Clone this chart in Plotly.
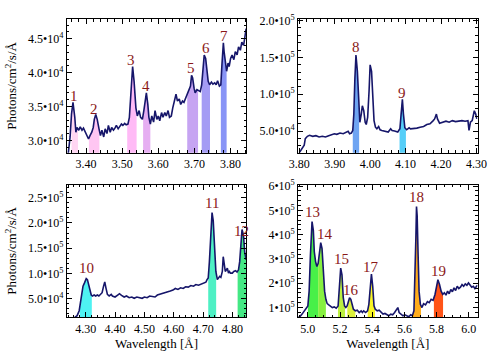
import numpy as np
import plotly.graph_objects as go

# ---------------- data ----------------
# Panel A (3.35 - 3.84 A)
wl_a = [3.351,3.356,3.360,3.364,3.369,3.372,3.375,3.380,3.384,3.389,
        3.393,3.398,3.402,3.407,3.411,3.416,3.420,3.423,3.427,3.431,
        3.436,3.440,3.444,3.449,3.453,3.458,3.462,3.467,3.471,3.476,
        3.480,3.484,3.489,3.493,3.498,3.502,3.507,3.511,3.516,3.520,
        3.524,3.529,3.533,3.538,3.542,3.547,3.551,3.556,3.560,3.564,
        3.567,3.571,3.574,3.578,3.582,3.587,3.591,3.596,3.600,3.604,
        3.609,3.613,3.618,3.622,3.627,3.631,3.636,3.640,3.644,3.649,
        3.653,3.658,3.662,3.667,3.671,3.676,3.680,3.684,3.689,3.692,
        3.695,3.699,3.702,3.707,3.711,3.716,3.720,3.724,3.727,3.731,
        3.734,3.738,3.742,3.747,3.751,3.756,3.760,3.764,3.769,3.773,
        3.776,3.780,3.782,3.786,3.789,3.793,3.796,3.800,3.804,3.809,
        3.813,3.818,3.822,3.827,3.831,3.836,3.840,3.843]
fx_a = [28100,30500,33900,35600,33400,31200,31900,31500,32000,31500,
        31800,31200,30700,30200,30700,31200,31900,33100,33800,33100,
        31700,30700,31500,30500,31700,31000,32200,31200,31900,31500,
        31800,32200,31700,32000,32400,32200,32500,32300,32400,33400,
        37300,40900,38700,34800,33600,34400,33400,33100,34400,36300,
        37000,35300,33400,32400,33600,32700,34400,33100,33600,32900,
        34100,33400,34100,33600,34400,33400,33600,34800,35600,36800,
        35800,36100,35300,35800,35600,36300,36900,37300,38000,39600,
        39200,37700,37000,37500,37300,37200,38200,41400,42600,42100,
        40400,38700,38200,38600,38300,38500,38200,38800,38000,38200,
        41100,44400,43100,41600,40200,41400,40900,42100,42600,41900,
        43100,42600,43800,43300,44500,44000,46000,46500]

# Panel B (3.80 - 4.30 A)
wl_b = [3.800,3.806,3.814,3.817,3.823,3.829,3.838,3.847,3.856,3.865,
        3.874,3.883,3.892,3.899,3.906,3.915,3.924,3.933,3.938,3.942,
        3.947,3.951,3.954,3.957,3.960,3.964,3.968,3.971,3.975,3.978,
        3.982,3.986,3.989,3.993,3.997,4.000,4.004,4.007,4.011,4.015,
        4.019,4.024,4.028,4.033,4.042,4.051,4.058,4.062,4.069,4.078,
        4.084,4.087,4.091,4.094,4.098,4.103,4.110,4.114,4.123,4.132,
        4.141,4.151,4.160,4.169,4.178,4.182,4.187,4.190,4.196,4.205,
        4.214,4.223,4.232,4.241,4.250,4.259,4.268,4.276,4.279,4.283,
        4.288,4.294,4.298,4.301]
fx_b = [20600,25100,30900,39800,42900,44200,42900,43800,42000,42900,
        42000,43800,45600,46400,45600,47300,46400,48700,49600,46400,
        47300,50900,73100,122100,153200,131000,86500,62000,73100,84300,
        77600,62000,58900,68700,104300,139900,131000,90900,64200,55300,
        53100,56200,51800,50900,50000,48700,53100,50900,50000,48700,
        53100,77600,93200,73100,54500,51800,54500,53100,53100,54000,
        55300,56200,58900,59800,64200,66500,73100,66500,60700,62000,
        63400,62000,64200,62900,63400,64200,63400,64200,50900,62000,
        64200,77600,73100,66500]

# Panel C (4.24 - 4.85 A)
wl_c = [4.263,4.271,4.278,4.282,4.286,4.291,4.296,4.302,4.306,4.310,
        4.315,4.319,4.323,4.329,4.334,4.340,4.345,4.351,4.356,4.361,
        4.365,4.369,4.374,4.380,4.387,4.391,4.400,4.409,4.415,4.422,
        4.431,4.439,4.448,4.457,4.465,4.474,4.483,4.492,4.500,4.509,
        4.518,4.527,4.536,4.544,4.553,4.562,4.570,4.579,4.588,4.597,
        4.605,4.614,4.623,4.632,4.640,4.649,4.658,4.667,4.675,4.684,
        4.693,4.702,4.709,4.713,4.717,4.721,4.726,4.730,4.734,4.739,
        4.743,4.748,4.752,4.756,4.760,4.765,4.768,4.771,4.775,4.779,
        4.782,4.786,4.789,4.793,4.799,4.804,4.810,4.815,4.820,4.824,
        4.828,4.832,4.837,4.841,4.846]
fx_c = [13000,16300,26000,39000,58400,74700,81200,89600,87600,77900,
        64900,57100,55200,57100,55200,57100,55200,58400,61700,74700,
        83100,71400,58400,55200,58400,55200,53200,57100,59700,56500,
        53200,55200,51900,53200,50600,53200,51900,50600,53200,51900,
        55200,54500,53200,57100,58400,59700,61700,63600,64900,66900,
        70100,68200,71400,70100,73400,72700,76000,74700,77900,76600,
        79200,81200,82500,87600,90900,123300,185000,220700,204500,149300,
        103900,87600,90900,94100,92200,103900,133100,120100,103900,107100,
        110400,100600,103900,100600,100600,103900,105200,102600,107100,123300,
        155800,186900,175300,142800,126600]

# Panel D (4.94 - 6.05 A)
wl_d = [4.936,4.950,4.964,4.976,4.990,5.000,5.008,5.016,5.026,5.034,
        5.040,5.048,5.056,5.064,5.072,5.080,5.088,5.096,5.104,5.112,
        5.120,5.130,5.140,5.152,5.164,5.176,5.188,5.196,5.204,5.212,
        5.220,5.228,5.236,5.244,5.251,5.259,5.267,5.275,5.283,5.295,
        5.307,5.319,5.331,5.339,5.347,5.359,5.371,5.379,5.387,5.395,
        5.403,5.411,5.419,5.431,5.443,5.455,5.467,5.479,5.491,5.503,
        5.515,5.527,5.539,5.551,5.559,5.567,5.579,5.591,5.603,5.615,
        5.627,5.639,5.649,5.659,5.665,5.671,5.675,5.679,5.685,5.691,
        5.699,5.709,5.719,5.731,5.743,5.754,5.766,5.778,5.790,5.798,
        5.808,5.818,5.828,5.838,5.848,5.858,5.868,5.878,5.888,5.898,
        5.908,5.918,5.928,5.938,5.948,5.958,5.968,5.978,5.988,5.998,
        6.008,6.018,6.028,6.038,6.048,6.054]
fx_d = [59500,62200,73000,86500,97300,106800,167600,316200,454000,417500,
        329700,289100,268900,282400,329700,367500,343200,248600,167600,133800,
        116200,110800,106800,100000,102700,97300,106800,181100,262100,235100,
        140500,106800,100000,106800,120300,140500,133800,106800,93200,86500,
        89200,79700,86500,79700,86500,79700,86500,113500,187800,237800,
        187800,106800,93200,86500,89200,79700,73000,75700,70300,66200,
        73000,70300,79700,93200,100000,79700,73000,66200,70300,66200,
        62200,70300,66200,86500,194600,383700,516100,478300,316200,167600,
        113500,100000,116200,110800,124300,120300,133800,129700,154000,187800,
        214800,194600,167600,154000,160800,151300,167600,156700,174300,164800,
        181100,170300,187800,178400,183800,194600,187800,197300,191900,201300,
        191900,183800,187800,178400,187800,191900]

# identified lines: number, panel, band limits, label position
line_ids = ["1","2","3","4","5","6","7","8","9","10",
            "11","12","13","14","15","16","17","18","19"]
line_panel = [0,0,0,0,0,0,0,1,1,2,2,2,3,3,3,3,3,3,3]
band_lo = [3.360,3.408,3.514,3.558,3.680,3.720,3.773,3.951,4.083,4.280,
           4.717,4.817,5.000,5.064,5.187,5.245,5.372,5.652,5.783]
band_hi = [3.378,3.437,3.540,3.578,3.710,3.743,3.789,3.969,4.101,4.321,
           4.744,4.846,5.064,5.112,5.231,5.295,5.417,5.703,5.840]
label_wl = [3.366,3.422,3.525,3.567,3.691,3.731,3.781,3.960,4.090,4.302,
            4.730,4.831,5.030,5.104,5.210,5.269,5.395,5.673,5.814]
label_fx = [36500,34600,41900,38000,40700,43600,45400,164400,102100,110400,
            240200,185000,494500,404000,300000,174300,268900,556600,248600]

# axis ticks
xt = [[3.40,3.50,3.60,3.70,3.80],[3.80,3.90,4.00,4.10,4.20,4.30],
      [4.30,4.40,4.50,4.60,4.70,4.80],[5.0,5.2,5.4,5.6,5.8,6.0]]
yt = [[3.0e4,3.5e4,4.0e4,4.5e4],[5.0e4,1.0e5,1.5e5,2.0e5],
      [5.0e4,1.0e5,1.5e5,2.0e5,2.5e5],[1e5,2e5,3e5,4e5,5e5,6e5]]

# ---------------- styling ----------------
band_colors = ['#ffd6f2','#ffc6f2','#ffbaf6','#e6aef2','#c6a4f2','#a49cf4','#8894f6',
               '#6ea4f2','#56cef8','#4ef2f2','#4ef0c4','#44e884','#48f048','#86f040',
               '#bcf040','#dcf03c','#f8f424','#ffac1c','#ff5418']
xranges = [[3.347,3.843],[3.797,4.303],[4.236,4.846],[4.940,6.054]]
yranges = [[28170,47900],[20600,202000],[13000,276000],[60000,606000]]
xdoms = [[60/500,246/500],[300/500,486/500],[60/500,246/500],[300/500,486/500]]
ydoms = [[(351-149.3)/351,(351-13.3)/351]]*2 + [[(351-316.7)/351,(351-181.7)/351]]*2
xfmt = ['.2f','.2f','.2f','.1f']
xminor = [0.02,0.02,0.02,0.05]
yminor = [1000,10000,10000,20000]
ydec = [True,True,True,False]

FONT = "Liberation Serif"
LINE = '#16166a'
LABEL = '#8a1818'

spectra = [(wl_a,fx_a),(wl_b,fx_b),(wl_c,fx_c),(wl_d,fx_d)]

def fmt_tick(v, dec):
    e = int(np.floor(np.log10(v)))
    m = v/10**e
    ms = f"{m:.1f}" if dec else f"{m:.0f}"
    return f"{ms}\u202210<sup>{e}</sup>"

fig = go.Figure()
for p,(wl,fx) in enumerate(spectra):
    sfx = '' if p == 0 else str(p+1)
    wl_arr = np.array(wl); fx_arr = np.array(fx)
    # coloured bands under the curve
    for i in range(len(line_ids)):
        if line_panel[i] != p:
            continue
        lo, hi = band_lo[i], band_hi[i]
        inside = (wl_arr > lo) & (wl_arr < hi)
        xs = np.concatenate([[lo], wl_arr[inside], [hi]])
        ys = np.interp(xs, wl_arr, fx_arr)
        fig.add_trace(go.Scatter(x=xs, y=ys, mode='lines', line=dict(width=0),
                                 fill='tozeroy', fillcolor=band_colors[i],
                                 xaxis='x'+sfx, yaxis='y'+sfx, showlegend=False,
                                 hoverinfo='skip'))
    fig.add_trace(go.Scatter(x=wl, y=fx, mode='lines',
                             line=dict(color=LINE, width=1.6),
                             xaxis='x'+sfx, yaxis='y'+sfx, showlegend=False))
    for i in range(len(line_ids)):
        if line_panel[i] != p:
            continue
        fig.add_annotation(x=label_wl[i], y=label_fx[i], text=line_ids[i],
                           xref='x'+sfx, yref='y'+sfx, showarrow=False,
                           font=dict(family=FONT, size=15, color=LABEL),
                           xanchor='center', yanchor='middle')

axis_common = dict(showline=True, linecolor='black', linewidth=1, mirror='allticks',
                   ticks='inside', ticklen=5, tickcolor='black', showgrid=False,
                   zeroline=False, tickfont=dict(family=FONT, size=12, color='black'))
layout = dict(width=500, height=351, margin=dict(l=0, r=0, t=0, b=0),
              paper_bgcolor='white', plot_bgcolor='white')
for p in range(4):
    sfx = '' if p == 0 else str(p+1)
    xa = dict(axis_common, domain=xdoms[p], range=xranges[p], tickvals=xt[p],
              tickformat=xfmt[p], anchor='y'+sfx,
              minor=dict(dtick=xminor[p], tick0=0, ticks='inside', ticklen=2.5,
                         tickcolor='black', showgrid=False))
    ya = dict(axis_common, domain=ydoms[p], range=yranges[p], tickvals=yt[p],
              ticktext=[fmt_tick(v, ydec[p]) for v in yt[p]], anchor='x'+sfx,
              minor=dict(dtick=yminor[p], tick0=0, ticks='inside', ticklen=2.5,
                         tickcolor='black', showgrid=False))
    if p >= 2:
        xa['title'] = dict(text='Wavelength [Å]', font=dict(family=FONT, size=13, color='black'),
                           standoff=0)
    if p in (0, 2):
        ya['title'] = dict(text='Photons/cm<sup>2</sup>/s/Å',
                           font=dict(family=FONT, size=13, color='black'), standoff=8)
    layout['xaxis'+sfx] = xa
    layout['yaxis'+sfx] = ya
fig.update_layout(**layout)
fig.write_html("out.html")
